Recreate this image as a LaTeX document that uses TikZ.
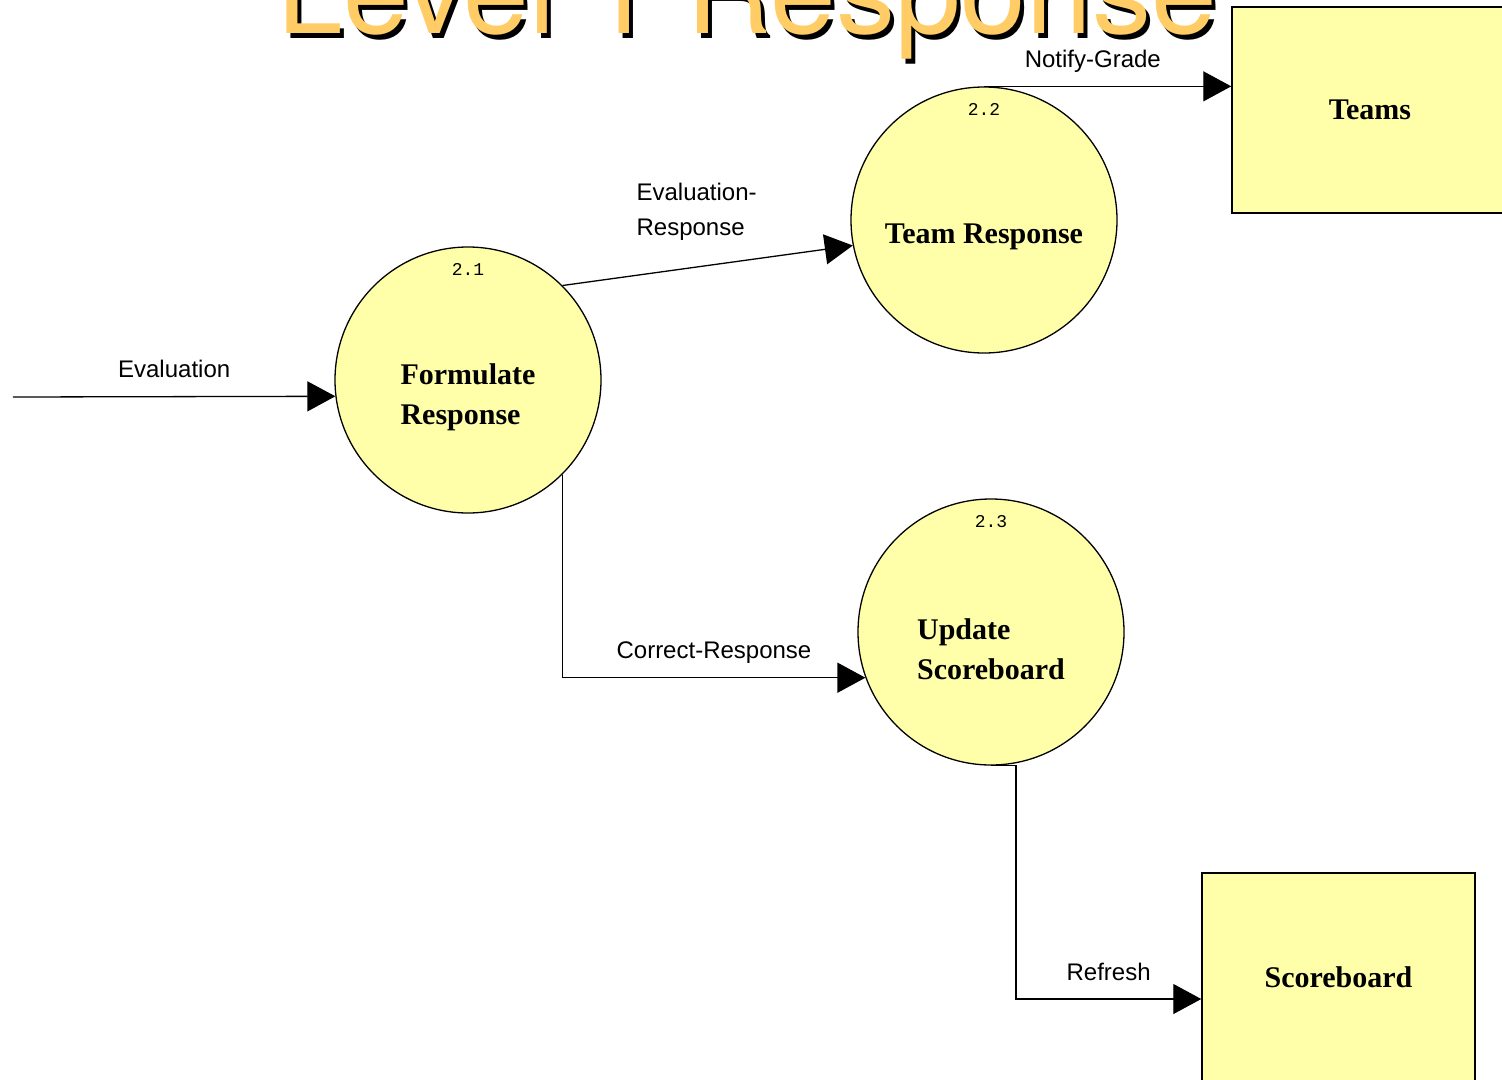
\documentclass[tikz,border=0pt]{standalone}
\usepackage{fontspec}
\setmainfont{Liberation Serif}
\newfontfamily\flowfont{Liberation Sans}
\newfontfamily\titlefont{TeX Gyre Heros}
\newfontfamily\numfont{Liberation Mono}
\usetikzlibrary{arrows.meta}
\definecolor{bubble}{RGB}{255,255,170}
\definecolor{titleyellow}{RGB}{255,204,102}

\begin{document}
\begin{tikzpicture}[x=1pt,y=-1pt,
  proc/.style={shape=circle,draw,fill=bubble,line width=1.3pt,minimum size=266pt,inner sep=0pt},
  proctext/.style={font=\bfseries\fontsize{30}{40}\selectfont,align=left},
  store/.style={shape=rectangle,draw,fill=bubble,line width=1.5pt,font=\bfseries\fontsize{30}{36}\selectfont},
  num/.style={font=\numfont\fontsize{18}{18}\selectfont},
  flow/.style={-{Triangle[length=28pt,width=30pt]},line width=1.3pt},
  lab/.style={font=\flowfont\fontsize{24}{35}\selectfont,anchor=base,yshift=19pt},
  heading/.style={anchor=base,font=\titlefont\fontsize{118}{118}\selectfont}]
\useasboundingbox (0,0) rectangle (1502,1079);
\clip (0,0) rectangle (1502,1079);

% title, cut at the top
\node(shadow) at (751,38)[heading,text=black]       {Level 1 Response};
\node(title)  at (747,33)[heading,text=titleyellow] {Level 1 Response};

% processes
\node(fr)  at (468,380)[proc]{};
\node(frn) at ([yshift=-23pt]fr.north)[num]{2.1};
\node(frt) at ([yshift=-17pt]fr.center)[proctext]{Formulate\\Response};
\node(tr)  at (984,220)[proc]{};
\node(trn) at ([yshift=-23pt]tr.north)[num]{2.2};
\node(trt) at ([yshift=-17pt]tr.center)[proctext]{Team Response};
\node(us)  at (991,632)[proc]{};
\node(usn) at ([yshift=-23pt]us.north)[num]{2.3};
\node(ust) at ([yshift=-17pt]us.center)[proctext]{Update\\Scoreboard};

% stores
\node(teams) at (1370,110)[store,minimum width=276pt,minimum height=206pt]{Teams};
\node(sb)    at (1338.5,977)[store,minimum width=273pt,minimum height=208pt]{Scoreboard};

\coordinate(src) at (13,397);

\path [flow]
  (src)       edge node [lab]                  {Evaluation}   (fr.187)
  (fr.45)     edge node [midway,above=20.6pt,xshift=-11pt,align=left,
                         font=\flowfont\fontsize{24}{35}\selectfont]
                                               {Evaluation-\\Response} (tr.191)
  (tr.north)  edge node [lab,pos=0.44]         {Notify-Grade} (tr.north -| teams.west);
\draw [flow] (fr.-45) |- node [lab,pos=0.75] {Correct-Response} (us.200);
\draw [flow] (us.south) -- ++(25,0) |- node [lab,pos=0.75] {Refresh} ([yshift=-22pt]sb.west);
\end{tikzpicture}
\end{document}
